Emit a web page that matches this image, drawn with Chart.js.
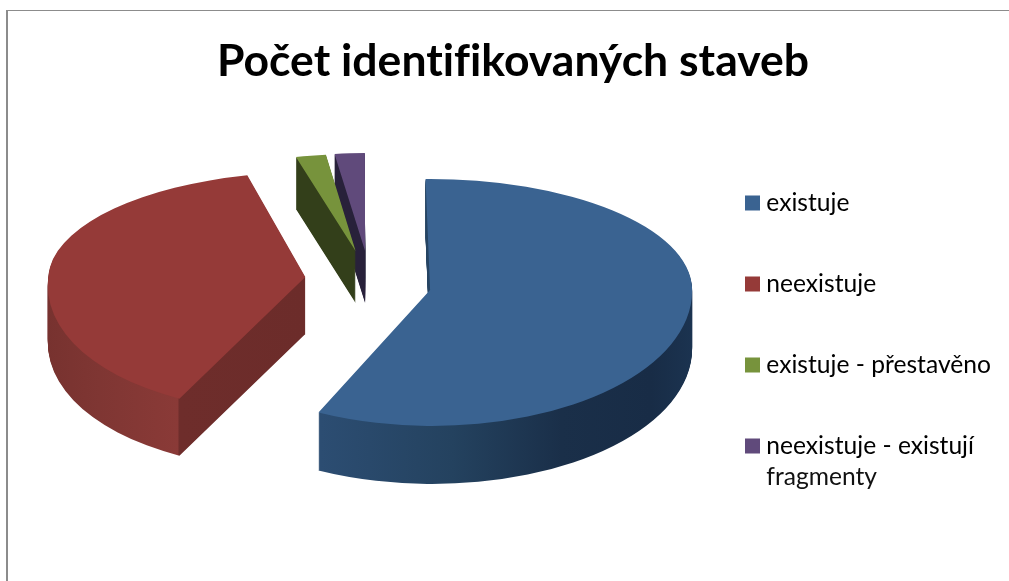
<!DOCTYPE html>
<html>
<head>
<meta charset="utf-8">
<style>
html,body{margin:0;padding:0;background:#fff;width:1009px;height:581px;overflow:hidden}
#frame{position:absolute;left:6px;top:10px;width:1003px;height:571px;border-left:2px solid #8c8c8c;border-top:1px solid #8c8c8c;box-sizing:border-box}
#wrap{position:absolute;left:0;top:0;width:1009px;height:581px}
</style>
<script src="https://cdn.jsdelivr.net/npm/chart.js@4"></script>
</head>
<body>
<div id="frame"></div>
<div id="wrap"><canvas id="c" width="1009" height="581"></canvas></div>
<script>
const titleText = "Počet identifikovaných staveb";
const categories = ["existuje", "neexistuje", "existuje - přestavěno", "neexistuje - existují fragmenty"];
const seriesValues = [310, 210, 10, 10];
const topColors = ["#3a6391", "#953a38", "#77933c", "#604a7b"];

// styling / layout of the pseudo-3D rendering
const explodeBy = [60.5, 66, 65, 65];
const rxBySlice = [262, 257, 262, 262];
const ryBackBySlice = [111, 105, 97, 98];
const ryFrontBySlice = [136, 135, 120, 120];
const shearBack = [0, -0.055, -0.055, -0.045];
const shearFront = [0.015, -0.12, 0, 0];
const depthBySlice = [58, 57, 52, 52];
const nudgeX = [0, 0, -3, -1];
const nudgeY = [5, 1, 2, 2];
const centerX = 371, centerY = 279, squash = 0.47;
const wallStops = [
  [[319,"#2c4d72"],[450,"#24425f"],[560,"#1a2f49"],[650,"#182c46"],[692,"#1b3350"]],
  [[48,"#77322f"],[110,"#7f3633"],[192,"#8a3a37"],[194,"#6e2d2b"],[306,"#6c2c2a"]],
  [[290,"#333f1a"],[360,"#333f1a"]],
  [[330,"#28213a"],[370,"#28213a"]]
];
const drawOrder = [3, 2, 1, 0];
const legendFont = 24.6, legendPad = 56.4, legendLine = 24.6, legendLeft = 694.6, legendTop = 134.3;

const pie3d = {
  id: "pie3d",
  beforeDraw(chart) { chart.ctx.letterSpacing = "0.01px"; },
  beforeDatasetDraw(chart, args) {
    const ctx = chart.ctx, meta = args.meta;
    const W = chart.width, H = chart.height;
    drawOrder.forEach(i => {
      const el = meta.data[i];
      const opts = el.options;
      const mid = (el.startAngle + el.endAngle) / 2;
      const re = el.outerRadius;
      const ax = centerX + Math.cos(mid) * explodeBy[i] + nudgeX[i];
      const ay = Math.round(centerY + Math.sin(mid) * explodeBy[i] * squash + nudgeY[i]);
      const sx = rxBySlice[i] / re;
      const sL = ryBackBySlice[i] / re, sF = ryFrontBySlice[i] / re;
      const render = (dy, fill) => {
        const saved = el.options;
        el.options = Object.create(saved, {backgroundColor: {value: fill}, borderWidth: {value: 0}});
        [[sL, shearBack[i], -1000, ay + dy + 0.5], [sF, shearFront[i], ay + dy, H + 1000]].forEach(([sy, k, y0, y1]) => {
          ctx.save();
          ctx.beginPath();
          ctx.rect(0, y0, W, y1 - y0);
          ctx.clip();
          ctx.translate(ax, ay + dy);
          ctx.transform(1, 0, k, 1, 0, 0);
          ctx.scale(sx, sy);
          ctx.translate(-el.x, -el.y);
          el.draw(ctx);
          ctx.restore();
        });
        el.options = saved;
      };
      const toU = X => el.x + (X - ax) / sx;
      const st = wallStops[i];
      const g = ctx.createLinearGradient(toU(st[0][0]), 0, toU(st[st.length - 1][0]), 0);
      st.forEach(([X, c]) => g.addColorStop((X - st[0][0]) / (st[st.length - 1][0] - st[0][0]), c));
      for (let d = depthBySlice[i]; d >= 1; d--) render(d, g);
      render(0, opts.backgroundColor);
    });
    return false;
  },
  afterLayout(chart) {
    chart.legend.left = legendLeft;
    chart.legend.top = legendTop;
  },
  afterDraw(chart) {
    const ctx = chart.ctx, lg = chart.legend;
    const parts = wrapLabel(categories[3]);
    ctx.save();
    ctx.font = legendFont + "px Lato";
    ctx.fillStyle = "#111";
    ctx.textBaseline = "middle";
    ctx.fillText(parts[1], lg.left + legendPad + 3 + legendFont / 2,
      lg.top + legendPad + 3 * (legendLine + legendPad) + legendLine / 2 + 31);
    ctx.restore();
  }
};
function wrapLabel(s) {
  if (s.length < 24) return [s];
  const k = s.lastIndexOf(" ");
  return [s.slice(0, k), s.slice(k + 1)];
}

new Chart(document.getElementById("c"), {
  type: "pie",
  data: {
    labels: categories,
    datasets: [{
      data: seriesValues,
      backgroundColor: topColors,
      borderWidth: 0,
      rotation: -1
    }]
  },
  plugins: [pie3d],
  options: {
    responsive: false,
    animation: false,
    layout: {padding: {left: 17, right: 0, top: 0, bottom: 0}},
    plugins: {
      tooltip: {enabled: false},
      title: {
        display: true,
        text: titleText,
        color: "#000",
        font: {family: "Lato", size: 44.5, weight: "bold", lineHeight: 1.2},
        padding: {top: 35, bottom: 10}
      },
      legend: {
        position: "right",
        align: "start",
        labels: {
          color: "#111",
          font: {family: "Lato", size: legendFont, lineHeight: 1.2},
          padding: legendPad,
          boxWidth: 3,
          boxHeight: 15,
          usePointStyle: true,
          generateLabels: () => categories.map((c, i) => ({
            text: wrapLabel(c)[0],
            fillStyle: topColors[i],
            strokeStyle: topColors[i],
            lineWidth: 0,
            pointStyle: "rect",
            hidden: false,
            index: i
          }))
        }
      }
    }
  }
});
</script>
</body>
</html>
